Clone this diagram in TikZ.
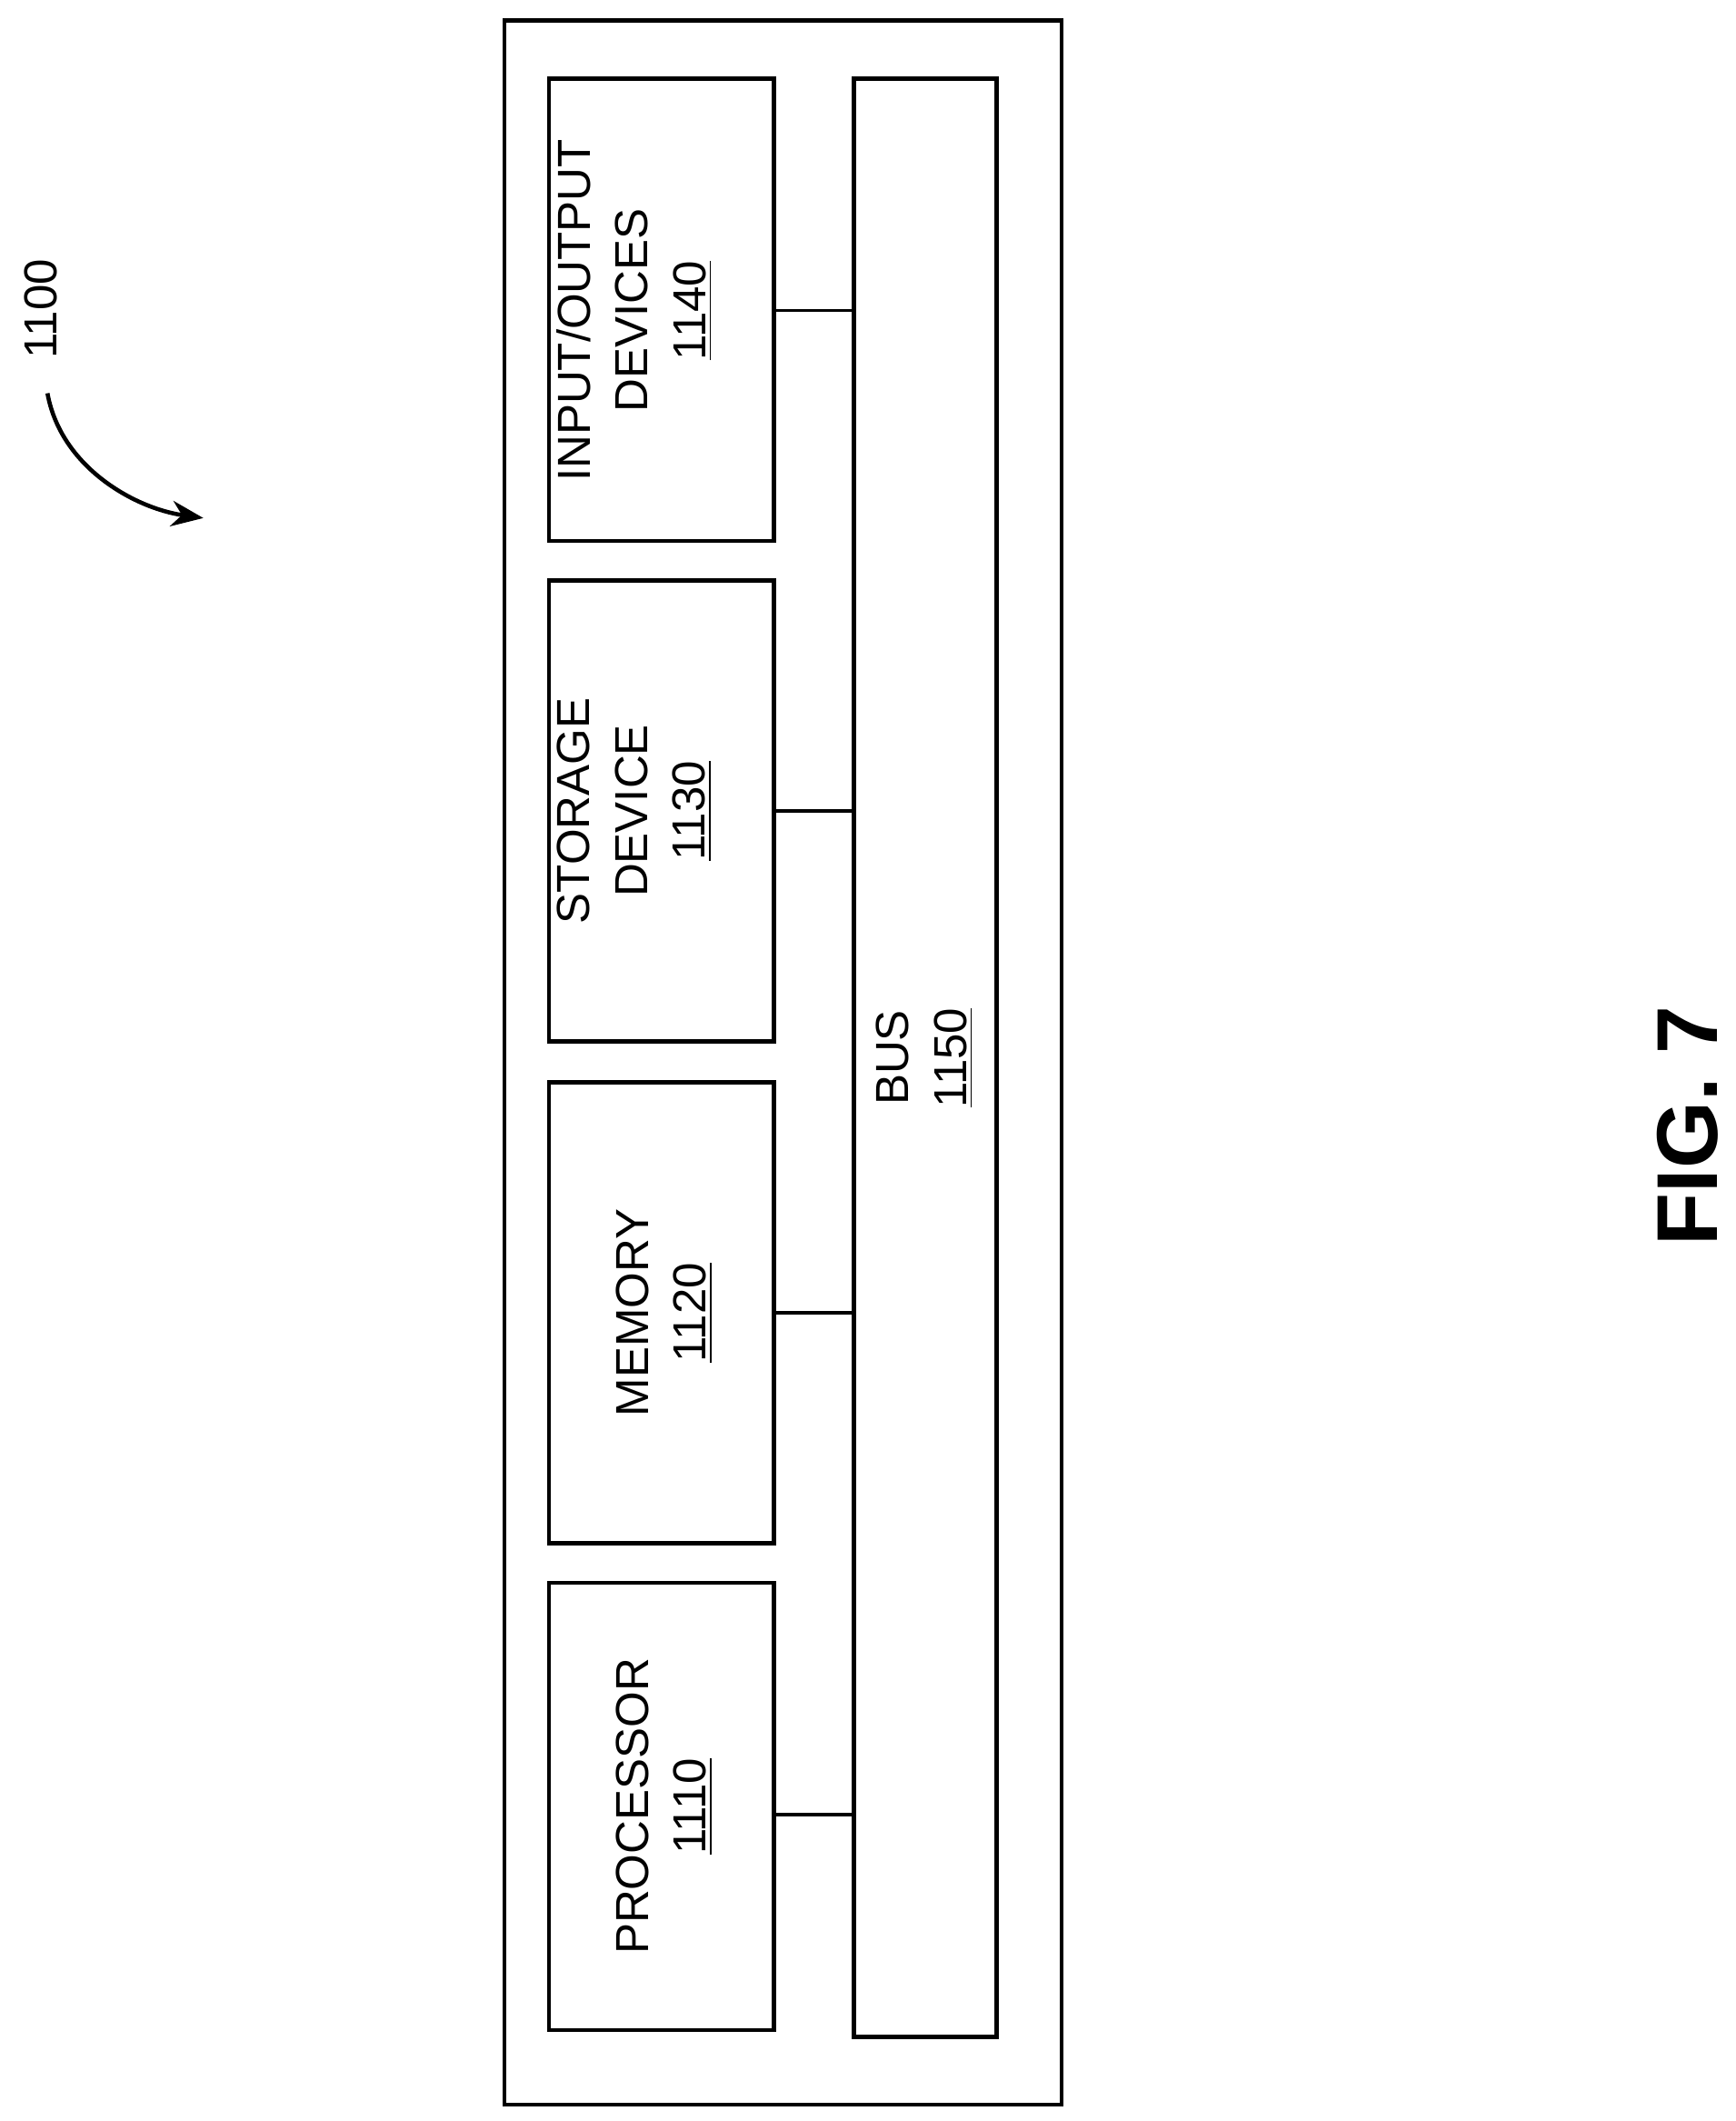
\documentclass[tikz,border=0pt]{standalone}
\usepackage{fontspec}
\setmainfont{Liberation Sans}
\usetikzlibrary{arrows.meta}
\begin{document}
\begin{tikzpicture}[x=0.01491cm,y=-0.01491cm,
  blk/.style={draw,line width=1.3pt,minimum width=166*0.01491cm,inner sep=0pt},
  lbl/.style={rotate=90,align=center,font=\fontsize{14.5}{18}\selectfont},
  ln/.style={line width=1pt}]
\useasboundingbox (0,0) rectangle (1280,1564);
\draw[line width=1.3pt] (372,15) rectangle (783,1552);
\draw[blk] (405,1167) rectangle (571,1497);
\draw[blk] (405,798) rectangle (571,1138);
\draw[blk] (405,428) rectangle (571,768);
\draw[blk] (405,58) rectangle (571,399);
\draw[blk] (630,58) rectangle (735,1502);
\node[lbl] (p) at (490,1332) {PROCESSOR\\\underline{1110}};
\node[lbl] (m) at (490,968) {MEMORY\\\underline{1120}};
\node[lbl] (s) at (468,598) {STORAGE\\DEVICE\\\underline{1130}};
\node[lbl] (io) at (468,229) {INPUT/OUTPUT\\DEVICES\\\underline{1140}};
\node[lbl] (bus) at (682,780) {BUS\\\underline{1150}};
\foreach \y in {1338,968,598,229} \draw[ln] (571,\y) -- (630,\y);
\node[rotate=90,font=\fontsize{14.5}{18}\selectfont] (n1100) at (30,228) {1100};
\draw[line width=1.3pt,-{Stealth[length=10pt,width=8pt]}] (35,290) .. controls (45,345) and (100,375) .. (150,382);
\node[rotate=90,font=\bfseries\fontsize{27}{30}\selectfont] (fig) at (1245,830) {FIG. 7};
\end{tikzpicture}
\end{document}
